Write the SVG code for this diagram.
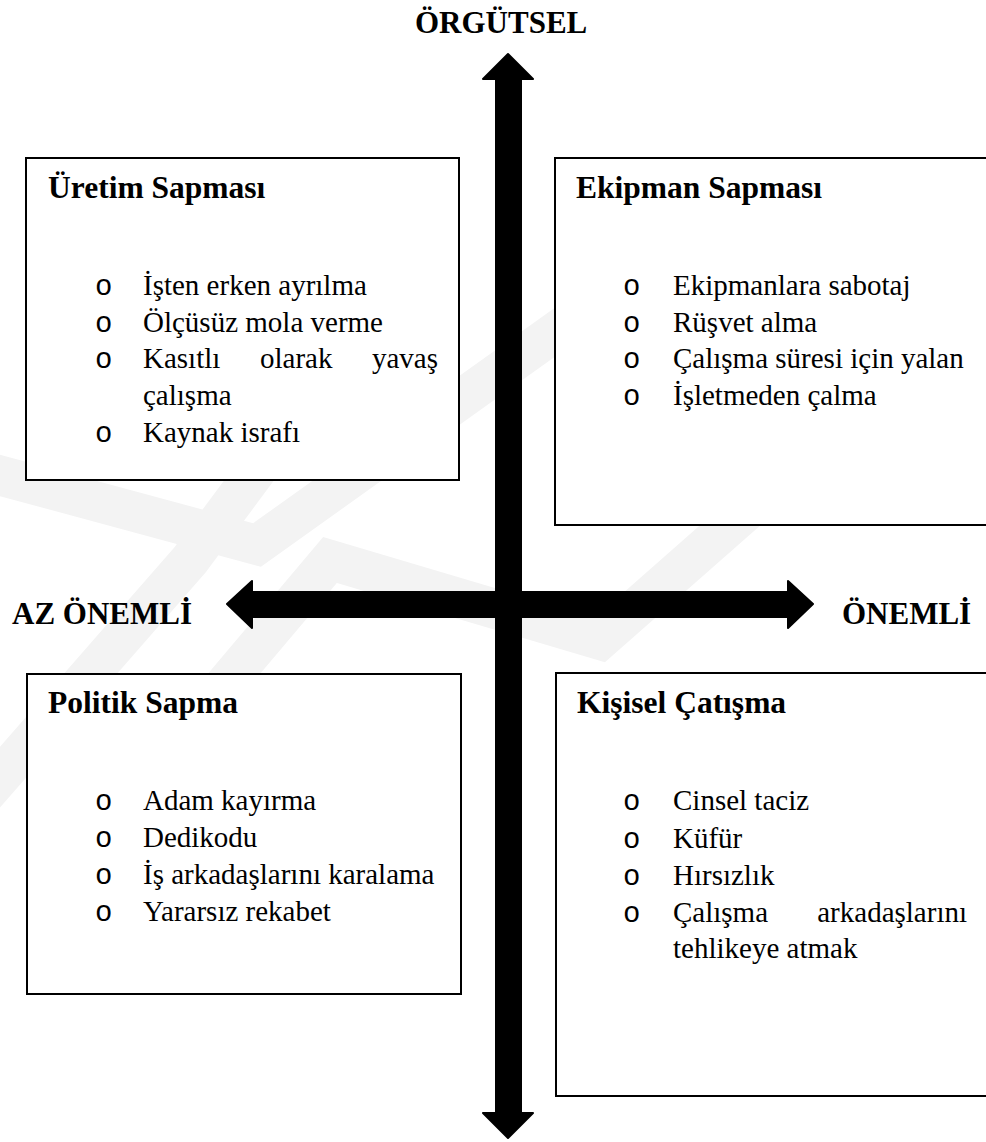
<svg xmlns="http://www.w3.org/2000/svg" width="986" height="1142" viewBox="0 0 986 1142">
<style>
.bg{fill:#ffffff}
.wm{fill:none;stroke:#f3f3f3;stroke-width:40;stroke-linejoin:miter}
.box{fill:#ffffff;stroke:#000000;stroke-width:2}
.title{font-family:"Liberation Serif","Times New Roman","DejaVu Serif",serif;font-weight:bold;font-size:31.5px;fill:#000}
.lbl{font-family:"Liberation Serif","Times New Roman","DejaVu Serif",serif;font-weight:bold;font-size:31px;fill:#000}
.item{font-family:"Liberation Serif","Times New Roman","DejaVu Serif",serif;font-weight:400;font-style:normal;font-size:29px;fill:#000}
.bul{font-family:"Liberation Mono","Courier New",monospace;font-size:29px;fill:#000}
.arrow{fill:#000;stroke:#000;stroke-width:2;stroke-linejoin:round}
</style>
<rect class="bg" x="0" y="0" width="986" height="1142"/>
<g id="watermark">
<polyline class="wm" points="-20,470 257,545 600,300"/>
<polyline class="wm" points="-20,800 190,560 420,250"/>
<polyline class="wm" points="60,880 330,560 600,640 986,300"/>
</g>
<g id="box-uretim">
<rect class="box" x="26" y="158" width="433" height="322"/>
<text class="title" x="48" y="198">Üretim Sapması</text>
<text class="bul" x="95" y="295">o</text><text class="item" x="143" y="295">İşten erken ayrılma</text>
<text class="bul" x="95" y="332">o</text><text class="item" x="143" y="332">Ölçüsüz mola verme</text>
<text class="bul" x="95" y="368">o</text><text class="item" y="368"><tspan x="143">Kasıtlı</tspan><tspan x="260">olarak</tspan><tspan x="438" text-anchor="end">yavaş</tspan></text>
<text class="item" x="143" y="405">çalışma</text>
<text class="bul" x="95" y="442">o</text><text class="item" x="143" y="442">Kaynak israfı</text>
</g>
<g id="box-ekipman">
<rect class="box" x="555" y="158" width="440" height="367"/>
<text class="title" x="576" y="198">Ekipman Sapması</text>
<text class="bul" x="623" y="295">o</text><text class="item" x="673" y="295">Ekipmanlara sabotaj</text>
<text class="bul" x="623" y="332">o</text><text class="item" x="673" y="332">Rüşvet alma</text>
<text class="bul" x="623" y="368">o</text><text class="item" x="673" y="368">Çalışma süresi için yalan</text>
<text class="bul" x="623" y="405">o</text><text class="item" x="673" y="405">İşletmeden çalma</text>
</g>
<g id="box-politik">
<rect class="box" x="27" y="674" width="434" height="320"/>
<text class="title" x="48" y="713">Politik Sapma</text>
<text class="bul" x="95" y="810">o</text><text class="item" x="143" y="810">Adam kayırma</text>
<text class="bul" x="95" y="847">o</text><text class="item" x="143" y="847">Dedikodu</text>
<text class="bul" x="95" y="884">o</text><text class="item" x="143" y="884">İş arkadaşlarını karalama</text>
<text class="bul" x="95" y="921">o</text><text class="item" x="143" y="921">Yararsız rekabet</text>
</g>
<g id="box-kisisel">
<rect class="box" x="556" y="673" width="440" height="423"/>
<text class="title" x="577" y="713">Kişisel Çatışma</text>
<text class="bul" x="623" y="810">o</text><text class="item" x="673" y="810">Cinsel taciz</text>
<text class="bul" x="623" y="848">o</text><text class="item" x="673" y="848">Küfür</text>
<text class="bul" x="623" y="885">o</text><text class="item" x="673" y="885">Hırsızlık</text>
<text class="bul" x="623" y="922">o</text><text class="item" y="922"><tspan x="673">Çalışma</tspan><tspan x="967" text-anchor="end">arkadaşlarını</tspan></text>
<text class="item" x="673" y="958">tehlikeye atmak</text>
</g>
<g id="connectors">
<path class="arrow" d="M508,54 L533,79 L521,79 L521,1113 L533,1113 L508,1138 L483,1113 L496,1113 L496,79 L483,79 Z"/>
<path class="arrow" d="M227,604 L252,581 L252,592 L788,592 L788,581 L813,604 L788,628 L788,617 L252,617 L252,628 Z"/>
</g>
<g id="labels">
<text class="lbl" x="415" y="33">ÖRGÜTSEL</text>
<text class="lbl" x="12" y="624">AZ ÖNEMLİ</text>
<text class="lbl" x="842" y="624">ÖNEMLİ</text>
</g>
</svg>
